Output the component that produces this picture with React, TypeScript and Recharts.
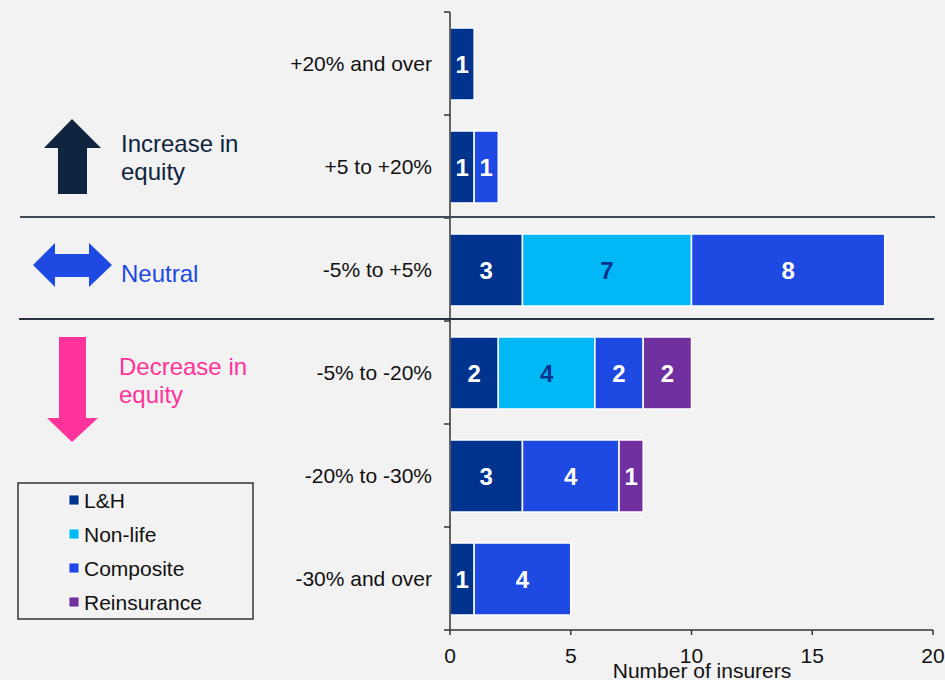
import { BarChart, Bar, XAxis, YAxis, LabelList } from 'recharts';

const categories = ['+20% and over', '+5 to +20%', '-5% to +5%', '-5% to -20%', '-20% to -30%', '-30% and over'];
const lhValues = [1, 1, 3, 2, 3, 1];
const nonLifeValues = [0, 0, 7, 4, 0, 0];
const compositeValues = [0, 1, 8, 2, 4, 4];
const reinsuranceValues = [0, 0, 0, 2, 1, 0];
const xTicks = [0, 5, 10, 15, 20];

const SERIES = [
  { key: 'lh', name: 'L&H', color: '#00338D', labelColor: '#ffffff' },
  { key: 'nonLife', name: 'Non-life', color: '#00B8F5', labelColor: '#00338D' },
  { key: 'composite', name: 'Composite', color: '#1E49E2', labelColor: '#ffffff' },
  { key: 'reinsurance', name: 'Reinsurance', color: '#7030A0', labelColor: '#ffffff' },
];

const data = categories.map((range, i) => ({
  range,
  lh: lhValues[i],
  nonLife: nonLifeValues[i],
  composite: compositeValues[i],
  reinsurance: reinsuranceValues[i],
}));

const FONT = '"Liberation Sans", Arial, sans-serif';
const W = 945;
const H = 680;
const MARGIN = { top: 12, right: 12, bottom: 20, left: 0 };
const X_AXIS_H = 30;
const HALF_BAND = (H - MARGIN.top - MARGIN.bottom - X_AXIS_H) / categories.length / 2;

function CategoryTick(props: any) {
  const { x, y, payload, index } = props;
  const axisX = x + 18;
  return (
    <g>
      <line x1={axisX - 6} x2={axisX} y1={y - HALF_BAND} y2={y - HALF_BAND} stroke="#333" strokeWidth={1.5} />
      {index === categories.length - 1 && (
        <line x1={axisX - 6} x2={axisX} y1={y + HALF_BAND} y2={y + HALF_BAND} stroke="#333" strokeWidth={1.5} />
      )}
      <text x={x} y={y} dy={7} textAnchor="end" fontSize={21} fill="#111" fontFamily={FONT}>
        {payload.value}
      </text>
    </g>
  );
}

export default function App() {
  return (
    <div style={{ position: 'relative', width: W, height: H, background: '#f2f2f2', fontFamily: FONT }}>
      <style>{'body{margin:0}'}</style>
      <BarChart width={W} height={H} data={data} layout="vertical" margin={MARGIN}>
        <XAxis
          type="number"
          domain={[0, 20]}
          ticks={xTicks}
          height={X_AXIS_H}
          tickSize={5}
          tickMargin={13}
          stroke="#333"
          strokeWidth={1.5}
          tick={{ fontSize: 21, fill: '#111', fontFamily: FONT }}
        />
        <YAxis
          type="category"
          dataKey="range"
          width={450}
          tickLine={false}
          tickSize={6}
          tickMargin={12}
          stroke="#333"
          strokeWidth={1.5}
          tick={<CategoryTick />}
        />
        {SERIES.map(s => (
          <Bar
            key={s.key}
            dataKey={s.key}
            name={s.name}
            stackId="a"
            fill={s.color}
            stroke="#ffffff"
            strokeWidth={1.5}
            barSize={72}
            isAnimationActive={false}
          >
            <LabelList
              dataKey={s.key}
              position="center"
              formatter={(v: any) => (v ? v : '')}
              style={{ fontSize: 24, fontWeight: 'bold', fill: s.labelColor, fontFamily: FONT }}
            />
          </Bar>
        ))}
      </BarChart>

      <svg width={W} height={H} style={{ position: 'absolute', left: 0, top: 0, pointerEvents: 'none' }}>
        {/* group separators */}
        <line x1={20} x2={935} y1={217} y2={217} stroke="#3d4a5a" strokeWidth={2} />
        <line x1={19} x2={934} y1={319} y2={319} stroke="#2a3442" strokeWidth={2} />

        {/* increase */}
        <polygon points="72,119 101,148 87,148 87,194 58,194 58,148 44,148" fill="#0F243E" />
        <text x={121} y={152} fontSize={24} fill="#0F243E" fontFamily={FONT}>Increase in</text>
        <text x={121} y={180} fontSize={24} fill="#0F243E" fontFamily={FONT}>equity</text>

        {/* neutral */}
        <polygon points="33,265 55,243 55,254 89,254 89,243 112,265 89,287 89,277 55,277 55,287" fill="#1E49E2" />
        <text x={121} y={282} fontSize={24} fill="#1E49E2" fontFamily={FONT}>Neutral</text>

        {/* decrease */}
        <polygon points="59,337 86,337 86,418 98,418 72,442 47,418 59,418" fill="#FF3399" />
        <text x={119} y={375} fontSize={24} fill="#FF3399" fontFamily={FONT}>Decrease in</text>
        <text x={119} y={403} fontSize={24} fill="#FF3399" fontFamily={FONT}>equity</text>

        {/* legend */}
        <rect x={18} y={483} width={235} height={136} fill="none" stroke="#333" strokeWidth={1.5} />
        {SERIES.map((s, i) => (
          <g key={s.key}>
            <rect x={69} y={495 + i * 34} width={10} height={10} fill={s.color} stroke="#fff" strokeWidth={0.8} />
            <text x={84} y={507.5 + i * 34} fontSize={21} fill="#111" fontFamily={FONT}>{s.name}</text>
          </g>
        ))}

        <text x={702} y={678} textAnchor="middle" fontSize={21} fill="#111" fontFamily={FONT}>Number of insurers</text>
      </svg>
    </div>
  );
}
